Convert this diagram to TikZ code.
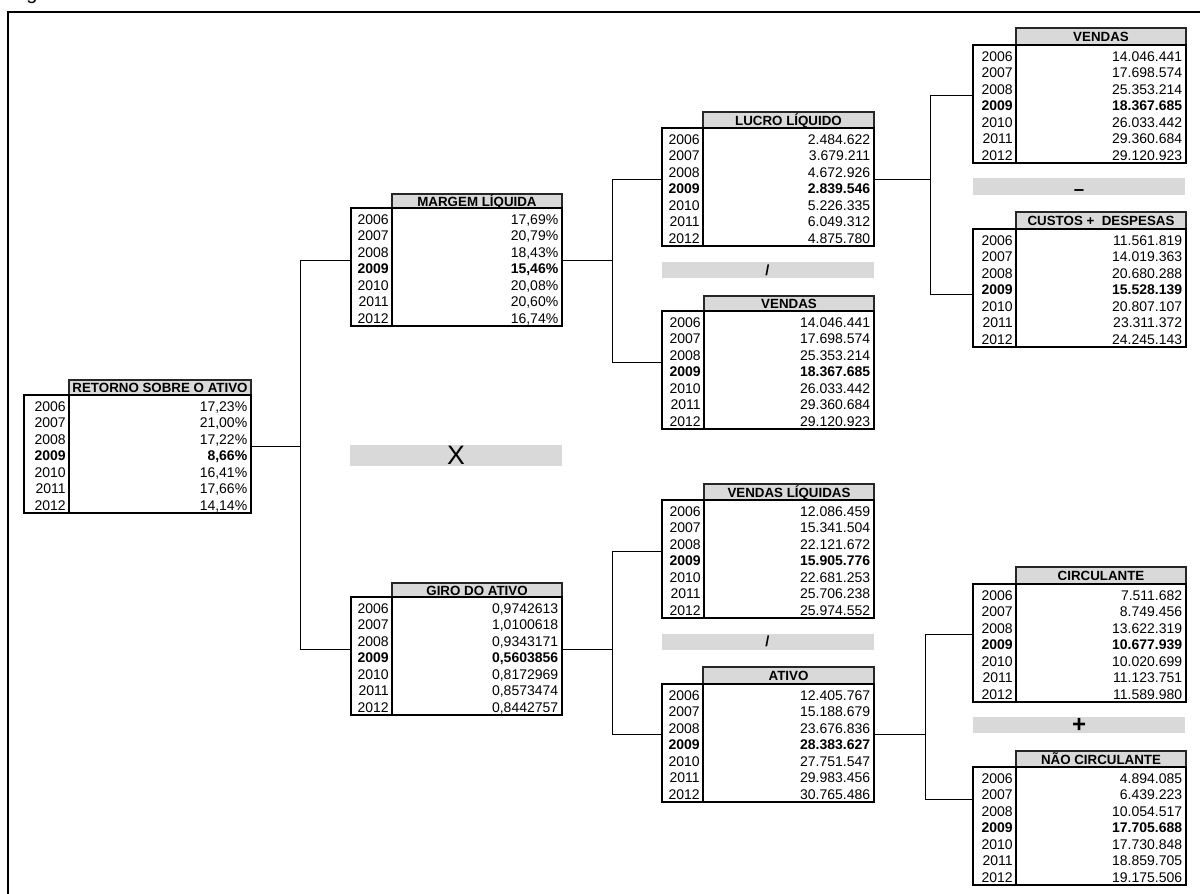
\documentclass[tikz,border=0pt]{standalone}
\usepackage{fontspec}
\setmainfont{Liberation Sans}
\usetikzlibrary{fit,calc}
\definecolor{cinza}{HTML}{D9D9D9}

\tikzset{
  cabec/.style={fill=cinza, draw=black!85, line width=0.9pt},
  corpo/.style={draw=black, line width=0.9pt},
  titulo/.style={font=\bfseries\fontsize{10}{12}\selectfont, inner sep=0pt, text height=7.2pt, text depth=0pt},
  celula/.style={font=\fontsize{10.5}{12}\selectfont, inner sep=0pt, text height=7.5pt, text depth=0pt},
  barra/.style={fill=cinza, inner sep=0pt, minimum width=159pt},
  liga/.style={draw=black, line width=0.7pt},
}

% nome, x esq, x divisao, x dir, y topo, y cabecalho, titulo, valores
\newcommand{\tabela}[8]{%
  \filldraw[cabec] (#3,#5) rectangle (#4,#6);
  \node[titulo] (#1-t) at ({(#3+#4)/2},{(#5+#6)/2+0.5}) {#7};
  \draw[corpo] (#2,#6) rectangle (#4,{#6+118}) (#3,#6) -- (#3,{#6+118});
  \foreach \v [count=\i from 0] in {#8} {
    \pgfmathtruncatemacro{\ano}{2006+\i}
    \pgfmathsetmacro{\yy}{#6+11+\i*16.5}
    \node[celula, anchor=east] (#1-a\i) at ({#3-3},\yy) {\ifnum\i=3 \bfseries\fi\ano};
    \node[celula, anchor=east] (#1-v\i) at ({#4-3.5},\yy) {\ifnum\i=3 \bfseries\fi\v};
  }
  \node[inner sep=0pt, fit={(#2,#5) (#4,{#6+118})}] (#1) {};
}

\begin{document}
\begin{tikzpicture}[x=0.75pt, y=-0.75pt]
  \useasboundingbox (0,0) rectangle (1200,893);
  \node[anchor=base west, inner sep=0pt, font=\fontsize{15}{18}\selectfont] (fig) at (26,-0.5) {g};
  \draw[line width=1.5pt] (8,910) -- (8,12) -- (1215,12);

  \tabela{ret}{24}{69}{251}{380}{395}{RETORNO SOBRE O ATIVO}{{17,23\%},{21,00\%},{17,22\%},{8,66\%},{16,41\%},{17,66\%},{14,14\%}}
  \tabela{mar}{351}{392}{562}{194}{208}{MARGEM LÍQUIDA}{{17,69\%},{20,79\%},{18,43\%},{15,46\%},{20,08\%},{20,60\%},{16,74\%}}
  \tabela{gir}{351}{392}{562}{583}{597}{GIRO DO ATIVO}{{0,9742613},{1,0100618},{0,9343171},{0,5603856},{0,8172969},{0,8573474},{0,8442757}}
  \tabela{luc}{662}{703}{874}{112}{128}{LUCRO LÍQUIDO}{2.484.622,3.679.211,4.672.926,2.839.546,5.226.335,6.049.312,4.875.780}
  \tabela{vmd}{662}{704}{874}{296}{311}{VENDAS}{14.046.441,17.698.574,25.353.214,18.367.685,26.033.442,29.360.684,29.120.923}
  \tabela{vlq}{662}{704}{874}{484}{500}{VENDAS LÍQUIDAS}{12.086.459,15.341.504,22.121.672,15.905.776,22.681.253,25.706.238,25.974.552}
  \tabela{atv}{662}{703}{874}{667}{684}{ATIVO}{12.405.767,15.188.679,23.676.836,28.383.627,27.751.547,29.983.456,30.765.486}
  \tabela{vnd}{973}{1016}{1186}{28}{45}{VENDAS}{14.046.441,17.698.574,25.353.214,18.367.685,26.033.442,29.360.684,29.120.923}
  \tabela{cus}{973}{1016}{1186}{212}{229}{CUSTOS +~ DESPESAS}{11.561.819,14.019.363,20.680.288,15.528.139,20.807.107,23.311.372,24.245.143}
  \tabela{cir}{973}{1016}{1186}{567}{584}{CIRCULANTE}{7.511.682,8.749.456,13.622.319,10.677.939,10.020.699,11.123.751,11.589.980}
  \tabela{nci}{973}{1016}{1186}{751}{767}{NÃO CIRCULANTE}{4.894.085,6.439.223,10.054.517,17.705.688,17.730.848,18.859.705,19.175.506}

  \node[barra, minimum height=15.75pt, font=\fontsize{20}{24}\selectfont] (op-x) at (456,455.5) {X};
  \node[barra, minimum height=12pt, font=\bfseries\fontsize{11}{13}\selectfont] (op-d1) at (767.5,270) {/};
  \node[barra, minimum height=12pt, font=\bfseries\fontsize{11}{13}\selectfont] (op-d2) at (767.5,641.5) {/};
  \node[barra, minimum height=12.75pt, font=\bfseries\fontsize{14}{16}\selectfont] (op-m) at (1079,186.5) {\raisebox{-6.8pt}[0pt][0pt]{--}};
  \node[barra, minimum height=12pt, font=\bfseries\fontsize{18}{20}\selectfont] (op-p) at (1079,725) {+};

  \draw[liga] (ret.east) -- ++(49,0) coordinate (j1);
  \draw[liga] (mar.west) -| (j1);
  \draw[liga] (gir.west) -| (j1);
  \draw[liga] (mar.east) -- ++(50,0) coordinate (j2);
  \draw[liga] (luc.west) -| (j2);
  \draw[liga] (vmd.west) -| (j2);
  \draw[liga] (gir.east) -- ++(50,0) coordinate (j3);
  \draw[liga] (vlq.west) -| (j3);
  \draw[liga] (atv.west) -| (j3);
  \draw[liga] (luc.east) -- ++(56,0) coordinate (j4);
  \draw[liga] (vnd.west) -| (j4);
  \draw[liga] ($(cus.west)+(0,15)$) -| (j4);
  \draw[liga] (atv.east) -- ++(51,0) coordinate (j5);
  \draw[liga] (cir.west) -| (j5);
  \draw[liga] ($(nci.west)+(0,-19)$) -| (j5);
\end{tikzpicture}
\end{document}
